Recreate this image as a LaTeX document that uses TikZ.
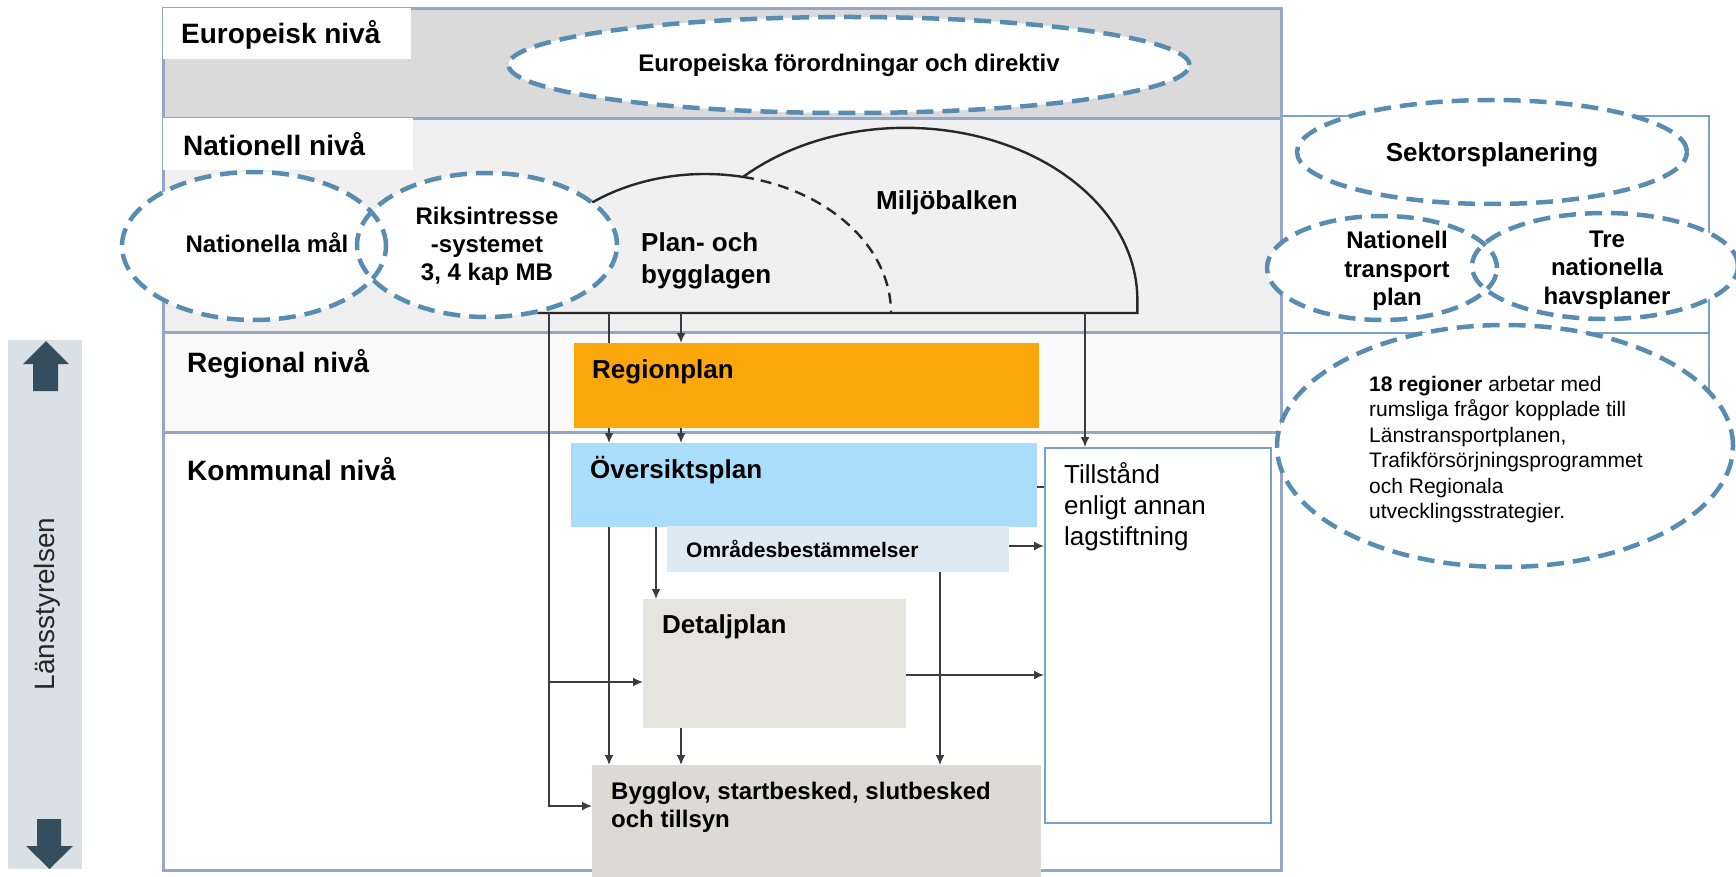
\documentclass[tikz,border=0pt]{standalone}
\usepackage{fontspec}
\setmainfont{Liberation Sans}
\usetikzlibrary{arrows.meta,shapes.geometric,calc}
\definecolor{euroGray}{RGB}{218,218,218}
\definecolor{natGray}{RGB}{240,240,240}
\definecolor{regGray}{RGB}{250,250,250}
\definecolor{frameBlue}{RGB}{150,166,202}
\definecolor{dashBlue}{RGB}{88,140,176}
\definecolor{rboxBlue}{RGB}{120,160,200}
\definecolor{orangeBox}{RGB}{252,167,12}
\definecolor{ovBlue}{RGB}{170,221,250}
\definecolor{omrBlue}{RGB}{221,234,243}
\definecolor{detGray}{RGB}{230,228,223}
\definecolor{byggGray}{RGB}{221,217,211}
\definecolor{barGray}{RGB}{218,225,230}
\definecolor{arrDark}{RGB}{54,77,94}
\definecolor{connGray}{RGB}{60,60,60}
\definecolor{domeGray}{RGB}{40,40,40}
\newcommand\myfs[2]{\fontsize{#1}{#2}\selectfont}
\tikzset{
  conn/.style={draw=connGray, line width=1.6pt, -{Latex[length=10pt,width=9pt]}},
  plainconn/.style={draw=connGray, line width=1.6pt},
  dashell/.style={ellipse, draw=dashBlue, line width=4.5pt, dash pattern=on 17pt off 9pt, inner sep=0pt},
  fillbox/.style={rectangle, anchor=north west, inner sep=0pt, draw=none},
  rbox/.style={rectangle, anchor=north west, inner sep=0pt, draw=rboxBlue, line width=2pt, fill=white},
  lbl/.style={anchor=base west, inner sep=0pt},
  dome/.style={draw=domeGray, line width=2.4pt},
  head/.style={lbl, font=\myfs{28}{33}\bfseries},
  boxtitle/.style={lbl, font=\myfs{26}{31}\bfseries},
  elltext/.style={inner sep=0pt, align=center, font=\myfs{24}{28.5}\bfseries},
}
\begin{document}
\begin{tikzpicture}[x=1pt,y=-1pt]
\useasboundingbox (0,0) rectangle (1736,877);
% bands
\fill[euroGray] (163,9) rectangle (1281,119);
\fill[natGray] (163,119) rectangle (1281,332);
\fill[regGray] (163,332) rectangle (1281,432);
\fill[white] (163,432) rectangle (1281,870);
% right boxes
\node[rbox, minimum width=427pt, minimum height=217pt] (sektbox) at (1281,115) {};
\node[rbox, minimum width=427pt, minimum height=100pt] (regbox) at (1281,332) {};
% frame
\draw[frameBlue, line width=3pt] (163,9) rectangle (1281,870);
\draw[frameBlue, line width=3pt] (163,119) -- (1281,119);
\draw[frameBlue, line width=3pt] (163,332) -- (1281,332);
\draw[frameBlue, line width=3pt] (163,432) -- (1281,432);
% level label boxes
\node[fillbox, fill=white, minimum width=248pt, minimum height=51pt] (eulbl) at (163,8) {};
\node[fillbox, fill=white, minimum width=250pt, minimum height=52pt] (natlbl) at (163,118) {};
\node[head] (euhead) at (181,44) {Europeisk nivå};
\node[head] (nathead) at (183,156) {Nationell nivå};
\node[head] (reghead) at (187,372) {Regional nivå};
\node[head] (komhead) at (187,480) {Kommunal nivå};
% dome
\coordinate (pblL) at (519,313);
\draw[dome] (pblL) arc[start angle=180, end angle=281.8, x radius=186, y radius=139] coordinate (junc);
\draw[dome, dash pattern=on 11pt off 7pt] (junc) arc[start angle=281.8, end angle=360, x radius=186, y radius=139];
\draw[dome] (junc) arc[start angle=225.6, end angle=360, x radius=232, y radius=172] |- (pblL);
\node[boxtitle] (miljo) at (876,210) {Miljöbalken};
\node[anchor=north west, inner sep=0pt, align=left, font=\myfs{26}{32}\bfseries] (pbltext) at (641,232) {Plan- och\\bygglagen};
% baseline coordinates
\coordinate (b1) at (549,313);
\coordinate (b2) at (609,313);
\coordinate (b3) at (681,313);
\coordinate (b4) at (1085,313);
\coordinate (x656) at (656,0);
\coordinate (x940) at (940,0);
% boxes
\node[fillbox, fill=ovBlue, minimum width=466pt, minimum height=84pt] (oversikt) at (571,443) {};
\draw[conn] (b2) -- (oversikt.north -| b2);
\node[fillbox, fill=orangeBox, minimum width=465pt, minimum height=85pt] (regplan) at (574,343) {};
\node[fillbox, fill=omrBlue, minimum width=342pt, minimum height=46pt] (omrade) at (667,526) {};
\node[fillbox, fill=detGray, minimum width=263pt, minimum height=129pt] (detalj) at (643,599) {};
\node[fillbox, fill=byggGray, minimum width=449pt, minimum height=112pt] (bygglov) at (592,765) {};
\node[rectangle, anchor=north west, inner sep=0pt, draw=rboxBlue, line width=1.5pt, fill=white, minimum width=226pt, minimum height=375pt] (tillst) at (1044,447) {};
% box titles
\node[boxtitle] (regtitle) at (592,378) {Regionplan};
\node[boxtitle] (ovtitle) at (590,478) {Översiktsplan};
\node[lbl, font=\myfs{21}{25}\bfseries] (omrtitle) at (686,557) {Områdesbestämmelser};
\node[boxtitle] (dettitle) at (662,633) {Detaljplan};
\node[anchor=north west, inner sep=0pt, align=left, font=\myfs{24}{28}\bfseries] (byggtitle) at (611,782) {Bygglov, startbesked, slutbesked\\och tillsyn};
\node[anchor=north west, inner sep=0pt, align=left, font=\myfs{26}{31}] (tilltext) at (1064,462) {Tillstånd\\enligt annan\\lagstiftning};
% connector end points
\coordinate (h1s) at ($(omrade.north east)+(0,20)$);
\coordinate (h2s) at ($(detalj.north east)+(0,76)$);
\coordinate (h3s) at ($(oversikt.north east)+(0,44)$);
\coordinate (dlin) at ($(b1)+(0,369)$);
\coordinate (dlend) at ($(detalj.north west)+(0,83)$);
\coordinate (bylin) at ($(bygglov.north west)+(0,41)$);
% connectors
\draw[conn] (b1) |- (bylin);
\draw[conn] (dlin) -- (dlend);
\draw[conn] (oversikt.south -| b2) -- (bygglov.north -| b2);
\draw[conn] (b3) -- (regplan.north -| b3);
\draw[conn] (regplan.south -| b3) -- (oversikt.north -| b3);
\draw[conn] (oversikt.south -| x656) -- (detalj.north -| x656);
\draw[conn] (detalj.south -| b3) -- (bygglov.north -| b3);
\draw[conn] (omrade.south -| x940) -- (bygglov.north -| x940);
\draw[conn] (b4) -- (tillst.north -| b4);
\draw[conn] (h1s) -- (h1s -| tillst.west);
\draw[conn] (h2s) -- (h2s -| tillst.west);
\draw[plainconn] (h3s) -- (h3s -| tillst.west);
% european ellipse
\node[dashell, fill=white, minimum width=681pt, minimum height=96pt] (euro) at (849,65) {};
\node[elltext, anchor=base] (eurotext) at (849,72) {Europeiska förordningar och direktiv};
% national ellipses
\fill[white] (254,246) ellipse[x radius=132, y radius=74];
\fill[white] (487,245) ellipse[x radius=130, y radius=72];
\node[dashell, minimum width=264pt, minimum height=148pt] (natmal) at (254,246) {};
\node[dashell, minimum width=260pt, minimum height=144pt] (riks) at (487,245) {};
\node[elltext, anchor=base] (natmaltext) at (267,253) {Nationella mål};
\node[elltext, font=\myfs{24}{28}\bfseries] (rikstext) at (487,246) {Riksintresse\\-systemet\\3, 4 kap MB};
% sector ellipses
\node[dashell, fill=white, minimum width=390pt, minimum height=104pt] (sekt) at (1492,152) {};
\node[elltext, anchor=base, font=\myfs{26}{30}\bfseries] (sekttext) at (1492,162) {Sektorsplanering};
\fill[white] (1382,268) ellipse[x radius=115, y radius=52];
\fill[white] (1605,266) ellipse[x radius=133, y radius=53];
\node[dashell, minimum width=230pt, minimum height=104pt] (ntp) at (1382,268) {};
\node[dashell, minimum width=266pt, minimum height=106pt] (tre) at (1605,266) {};
\node[elltext] (ntptext) at (1397,271) {Nationell\\transport\\plan};
\node[elltext] (tretext) at (1607,270) {Tre\\nationella\\havsplaner};
\node[dashell, fill=white, minimum width=456pt, minimum height=242pt] (reg18) at (1505,446) {};
\node[anchor=north west, inner sep=0pt, align=left, font=\myfs{21}{25.4}] (regtext) at (1369,376) {\textbf{18 regioner} arbetar med\\rumsliga frågor kopplade till\\Länstransportplanen,\\Trafikförsörjningsprogrammet\\och Regionala\\utvecklingsstrategier.};
% Lansstyrelsen bar
\fill[barGray] (8,340) rectangle (82,869);
\fill[arrDark] (46,341) -- (69,364) -- (58,364) -- (58,391) -- (33,391) -- (33,364) -- (23,364) -- cycle;
\fill[arrDark] (49.5,869) -- (73,846) -- (61,846) -- (61,819) -- (37,819) -- (37,846) -- (26,846) -- cycle;
\node[rotate=90, inner sep=0pt, font=\myfs{28}{33}, text=black!85] (lanstext) at (47,604) {Länsstyrelsen};
\end{tikzpicture}
\end{document}
